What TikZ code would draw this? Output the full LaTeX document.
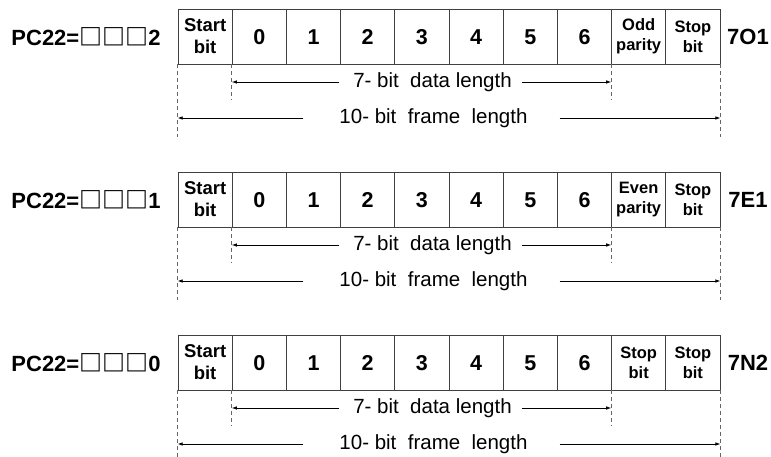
\documentclass[tikz,border=0pt]{standalone}
\usepackage{fontspec}
\setmainfont{Liberation Sans}
\newfontfamily\cjkfont{Noto Sans CJK SC}
\usetikzlibrary{arrows.meta}

\tikzset{
	bitcell/.style={draw=black!75, line width=0.8pt, minimum width=54.2pt, minimum height=55pt, inner sep=0pt, font=\bfseries\fontsize{21.5}{23}\selectfont},
	digitcell/.style={bitcell, text height=15.4pt, text depth=0pt},
	twoline/.style={bitcell, align=center, font=\bfseries\fontsize{16.5}{20}\selectfont},
	startcell/.style={bitcell, align=center, font=\bfseries\fontsize{18.5}{22}\selectfont},
	codelabel/.style={inner sep=0pt, font=\bfseries\fontsize{22}{24}\selectfont},
	lentext/.style={inner sep=0pt, font=\fontsize{20.5}{22}\selectfont},
	lenarrow/.style={line width=0.7pt, -{Latex[length=5pt,width=3.5pt]}},
	guide/.style={draw=black!60, line width=0.8pt, dash pattern={on 4pt off 3pt}}
}

\begin{document}
\begin{tikzpicture}[x=1pt, y=-1pt]
			\useasboundingbox (0, 0) rectangle (771, 457);
			\foreach \rw/\yy/\pc/\pty/\fmt in {1/9/2/{Odd\\parity}/7O1, 2/172/1/{Even\\parity}/7E1, 3/335/0/{Stop\\bit}/7N2}{
				% frame cells
				\node[startcell](s\rw) at (205.1, \yy+27.5){Start\\bit};
				\foreach \b in {0,...,6}
					\node[digitcell](c\rw\b) at (259.3+54.2*\b, \yy+27.5){\b};
				\node[twoline](p\rw) at (638.7, \yy+27.5){\pty};
				\node[twoline](e\rw) at (692.9, \yy+27.5){Stop\\bit};
				\node[codelabel](pc\rw) at (86, \yy+27.5){PC22={\cjkfont\fontsize{23}{24}\selectfont □□□}\pc};
				\node[codelabel](f\rw) at (748, \yy+27.5){\fmt};
				% lengths
				\node[lentext](dl\rw) at (432.5, \yy+73){7- bit\ \ data length};
				\node[lentext](fl\rw) at (433.5, \yy+109){10- bit\ \ frame\ \ length};
				\draw[lenarrow] ([xshift=-14pt]dl\rw.west) -- (c\rw0.south west |- dl\rw.west);
				\draw[lenarrow] ([xshift=10pt]dl\rw.east) -- (p\rw.south west |- dl\rw.east);
				\draw[lenarrow] ([xshift=-36pt]fl\rw.west) -- (s\rw.south west |- fl\rw.west);
				\draw[lenarrow] ([xshift=32pt]fl\rw.east) -- (e\rw.south east |- fl\rw.east);
				\draw[guide] (s\rw.south west) -- ++(0, 73);
				\draw[guide] (c\rw0.south west) -- ++(0, 36);
				\draw[guide] (p\rw.south west) -- ++(0, 36);
				\draw[guide] (e\rw.south east) -- ++(0, 73);
			}
		\end{tikzpicture}
\end{document}
